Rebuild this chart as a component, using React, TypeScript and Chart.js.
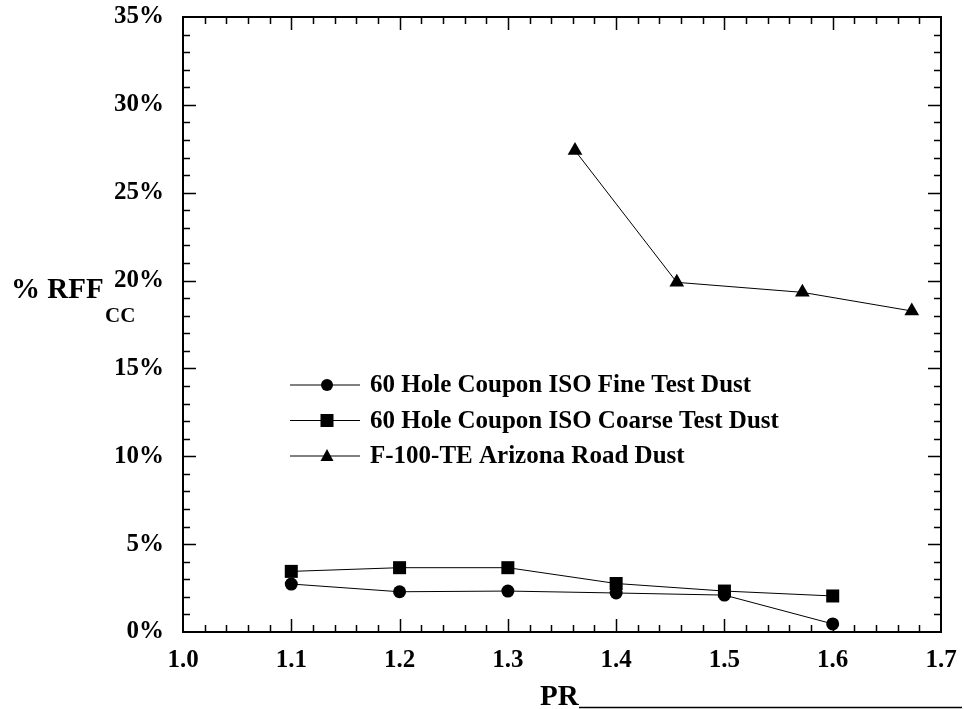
import React, { useEffect, useRef } from "react";
import { Chart, registerables } from "chart.js";

Chart.register(...registerables);

const prValues = [1.1, 1.2, 1.3, 1.4, 1.5, 1.6];
const fineDust = [2.73, 2.29, 2.33, 2.22, 2.1, 0.46];
const coarseDust = [3.45, 3.66, 3.66, 2.76, 2.33, 2.05];
const ardPR = [1.362, 1.456, 1.572, 1.673];
const ardDust = [27.4, 19.9, 19.33, 18.27];

const seriesLabels = [
  "60 Hole Coupon ISO Fine Test Dust",
  "60 Hole Coupon ISO Coarse Test Dust",
  "F-100-TE Arizona Road Dust",
];
const xTicks = [1.0, 1.1, 1.2, 1.3, 1.4, 1.5, 1.6, 1.7];
const yTicks = [0, 5, 10, 15, 20, 25, 30, 35];

const FONT = "'Liberation Serif', 'Times New Roman', serif";

const decorPlugin = {
  id: "decor",
  afterDraw(chart: any) {
    const ctx = chart.ctx;
    const ca = chart.chartArea;
    const xs = chart.scales.x;
    const ys = chart.scales.y;
    ctx.save();
    ctx.strokeStyle = "#000";
    ctx.lineWidth = 2;
    ctx.strokeRect(ca.left, ca.top, ca.right - ca.left, ca.bottom - ca.top);

    // ticks
    ctx.lineWidth = 1.5;
    ctx.beginPath();
    for (let i = 1; i < 35; i++) {
      const v = xTicks[0] + i * 0.02;
      const px = Math.round(xs.getPixelForValue(v)) + 0.5;
      const len = i % 5 === 0 ? 13 : 7;
      ctx.moveTo(px, ca.bottom);
      ctx.lineTo(px, ca.bottom - len);
      ctx.moveTo(px, ca.top);
      ctx.lineTo(px, ca.top + len);
    }
    for (let j = 1; j < 35; j++) {
      const py = Math.round(ys.getPixelForValue(j)) + 0.5;
      const len = j % 5 === 0 ? 13 : 7;
      ctx.moveTo(ca.left, py);
      ctx.lineTo(ca.left + len, py);
      ctx.moveTo(ca.right, py);
      ctx.lineTo(ca.right - len, py);
    }
    ctx.stroke();

    // legend
    const lx0 = 290, lx1 = 360, ly0 = 385, dy = 35.5;
    chart.data.datasets.forEach((ds: any, i: number) => {
      const y = ly0 + i * dy;
      ctx.strokeStyle = "#000";
      ctx.lineWidth = 1;
      ctx.beginPath();
      ctx.moveTo(lx0, y);
      ctx.lineTo(lx1, y);
      ctx.stroke();
      ctx.fillStyle = "#000";
      const mx = (lx0 + lx1) / 2 + 2;
      ctx.beginPath();
      if (ds.pointStyle === "circle") {
        ctx.arc(mx, y, 6, 0, Math.PI * 2);
      } else if (ds.pointStyle === "rect") {
        ctx.rect(mx - 6.5, y - 6.5, 13, 13);
      } else {
        ctx.moveTo(mx, y - 7);
        ctx.lineTo(mx + 6.5, y + 5);
        ctx.lineTo(mx - 6.5, y + 5);
        ctx.closePath();
      }
      ctx.fill();
      ctx.font = `bold 25px ${FONT}`;
      ctx.textAlign = "left";
      ctx.textBaseline = "middle";
      ctx.fillText(ds.label, 370, y + 1);
    });

    // axis titles
    ctx.fillStyle = "#000";
    ctx.textBaseline = "alphabetic";
    ctx.textAlign = "left";
    ctx.font = `bold 29px ${FONT}`;
    ctx.fillText("% RFF", 11, 298);
    ctx.font = `bold 21px ${FONT}`;
    ctx.fillText("CC", 105, 322);
    ctx.font = `bold 29px ${FONT}`;
    ctx.fillText("PR", 540, 705);

    ctx.lineWidth = 1.5;
    ctx.beginPath();
    ctx.moveTo(579, 707.5);
    ctx.lineTo(962, 707.5);
    ctx.stroke();
    ctx.restore();
  },
};

export default function App() {
  const ref = useRef<HTMLCanvasElement>(null);
  useEffect(() => {
    if (!ref.current) return;
    const common = {
      borderColor: "#000",
      backgroundColor: "#000",
      pointBackgroundColor: "#000",
      pointBorderColor: "#000",
      borderWidth: 1,
      showLine: true,
      pointBorderWidth: 0,
    };
    const chart = new Chart(ref.current, {
      type: "scatter",
      data: {
        datasets: [
          {
            ...common,
            label: seriesLabels[0],
            data: prValues.map((x, i) => ({ x, y: fineDust[i] })),
            pointStyle: "circle",
            pointRadius: 6.5,
          },
          {
            ...common,
            label: seriesLabels[1],
            data: prValues.map((x, i) => ({ x, y: coarseDust[i] })),
            pointStyle: "rect",
            pointRadius: 9.2,
          },
          {
            ...common,
            label: seriesLabels[2],
            data: ardPR.map((x, i) => ({ x, y: ardDust[i] })),
            pointStyle: "triangle",
            pointRadius: 8.5,
          },
        ],
      },
      options: {
        responsive: false,
        animation: false,
        devicePixelRatio: 1,
        layout: { padding: { top: 17, right: 23, left: 0, bottom: 0 } },
        plugins: { legend: { display: false }, tooltip: { enabled: false } },
        scales: {
          x: {
            type: "linear",
            min: 1.0,
            max: 1.7,
            afterFit: (s: any) => {
              s.height = 77;
              s.paddingLeft = 0;
              s.paddingRight = 0;
            },
            afterBuildTicks: (s: any) => {
              s.ticks = xTicks.map((v) => ({ value: v }));
            },
            grid: { display: false, drawTicks: false },
            border: { display: false },
            ticks: {
              padding: 14,
              color: "#000",
              font: { family: FONT, size: 25, weight: "bold" },
              callback: (v: any) => Number(v).toFixed(1),
              maxRotation: 0,
              autoSkip: false,
            },
          },
          y: {
            type: "linear",
            min: 0,
            max: 35,
            afterFit: (s: any) => {
              s.width = 183;
              s.paddingTop = 0;
              s.paddingBottom = 0;
            },
            afterBuildTicks: (s: any) => {
              s.ticks = yTicks.map((v) => ({ value: v }));
            },
            grid: { display: false, drawTicks: false },
            border: { display: false },
            ticks: {
              padding: 19,
              color: "#000",
              font: { family: FONT, size: 25, weight: "bold" },
              callback: (v: any) => `${v}%`,
              autoSkip: false,
            },
          },
        },
      },
      plugins: [decorPlugin],
    } as any);
    return () => chart.destroy();
  }, []);
  return (
    <div style={{ position: "fixed", left: 0, top: 0, width: 964, height: 709, background: "#fff" }}>
      <canvas ref={ref} width={964} height={709} style={{ display: "block" }} />
    </div>
  );
}
